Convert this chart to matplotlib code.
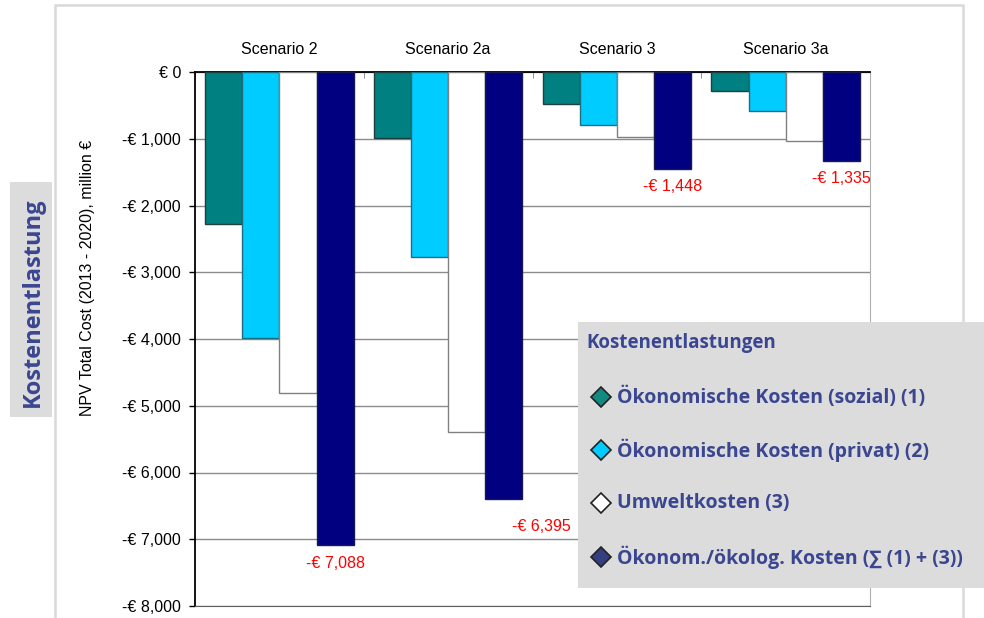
import numpy as np
import matplotlib.pyplot as plt
from matplotlib.patches import Rectangle
from matplotlib.lines import Line2D

# Data (million EUR, NPV 2013-2020)
scenarios = ["Scenario 2", "Scenario 2a", "Scenario 3", "Scenario 3a"]
social_costs = [-2280, -990, -480, -280]
private_costs = [-3980, -2770, -790, -580]
environmental_costs = [-4810, -5400, -970, -1030]
total_costs = [-7088, -6395, -1448, -1335]

series_names = [
    "Ökonomische Kosten (sozial) (1)",
    "Ökonomische Kosten (privat) (2)",
    "Umweltkosten (3)",
    "Ökonom./ökolog. Kosten (∑ (1) + (3))",
]
y_ticks = [0, -1000, -2000, -3000, -4000, -5000, -6000, -7000, -8000]

BAR_COLORS = ["#008080", "#00ccff", "#ffffff", "#000080"]
EDGE_COLORS = ["#1f3f3f", "#1a6f80", "#808080", "#1a1a4a"]
MARKER_COLORS = ["#138a80", "#00ccff", "#ffffff", "#333f80"]
TEXT_BLUE = "#3a4690"
FS = 11.5

plt.rcParams['font.family'] = ['Liberation Sans', 'DejaVu Sans']

fig = plt.figure(figsize=(9.84, 6.18), dpi=100)
W, H = 984, 618


def fx(px):
    return px / W


def fy(py):
    return 1 - py / H


# outer frame of the embedded chart
fig.patches.append(Rectangle((fx(55), fy(640)), fx(963) - fx(55), fy(5) - fy(640),
                             transform=fig.transFigure, fill=False,
                             edgecolor="#d9d9d9", linewidth=1.8, zorder=0))

ax = fig.add_axes([fx(195), fy(606), fx(870) - fx(195), fy(72) - fy(606)])

width = 0.22
start = (1 - 4 * width) / 2
x = np.arange(len(scenarios))
all_series = [social_costs, private_costs, environmental_costs, total_costs]
for k, vals in enumerate(all_series):
    ax.bar(x + start + width * (k + 0.5), vals, width, color=BAR_COLORS[k],
           edgecolor=EDGE_COLORS[k], linewidth=1.0, zorder=3)

# red data labels under the total bars
label_offsets = [(0, -18), (38, -28), (0, -18), (0, -17)]
for i, v in enumerate(total_costs):
    ax.annotate(f"-€ {abs(v):,}", (x[i] + start + width * 3.5, v),
                xytext=label_offsets[i], textcoords="offset pixels",
                ha="center", va="center", color="#ff0000", fontsize=FS)

ax.set_xlim(0, len(scenarios))
ax.set_ylim(-8000, 0)
ax.set_yticks(y_ticks)
ax.set_yticklabels(["€ 0" if t == 0 else f"-€ {abs(t):,}" for t in y_ticks],
                   fontsize=FS)
ax.yaxis.grid(True, color="#8c8c8c", linewidth=1.0, zorder=0)
ax.set_axisbelow(True)
ax.tick_params(axis="y", direction="out", length=4, width=1, pad=6)

ax.xaxis.tick_top()
ax.set_xticks(x + 0.5)
ax.set_xticklabels(scenarios, fontsize=FS)
ax.set_xticks(np.arange(len(scenarios) + 1), minor=True)
ax.tick_params(axis="x", which="major", length=0, pad=11)
ax.tick_params(axis="x", which="minor", direction="in", length=4, color="#808080")

ax.spines["top"].set_color("black")
ax.spines["top"].set_linewidth(1.3)
ax.spines["left"].set_color("black")
ax.spines["left"].set_linewidth(1.3)
ax.spines["right"].set_color("#b0b0b0")
ax.spines["bottom"].set_color("#606060")

fig.text(fx(88), fy(278), "NPV Total Cost (2013 - 2020), million €",
         rotation=90, ha="center", va="center", fontsize=FS)

# side caption box
fig.patches.append(Rectangle((fx(10), fy(417)), fx(52) - fx(10), fy(182) - fy(417),
                             transform=fig.transFigure, facecolor="#dcdcdc",
                             edgecolor="none", zorder=1))
fig.text(fx(33), fy(302), "Kostenentlastung", rotation=90, ha="center", va="center",
         fontsize=17, fontweight="bold", color=TEXT_BLUE, family="Open Sans", zorder=2)

# legend box
fig.patches.append(Rectangle((fx(578), fy(588)), fx(990) - fx(578), fy(322) - fy(588),
                             transform=fig.transFigure, facecolor="#dcdcdc",
                             edgecolor="none", zorder=5))
fig.text(fx(586), fy(343), "Kostenentlastungen", ha="left", va="center",
         fontsize=13.5, fontweight="bold", color=TEXT_BLUE, family="Open Sans", zorder=6)
legend_rows = [397, 450, 503, 557]
for k, name in enumerate(series_names):
    fig.lines.append(Line2D([fx(601)], [fy(legend_rows[k])], marker="D", markersize=10,
                            markerfacecolor=MARKER_COLORS[k], markeredgecolor="#222222",
                            markeredgewidth=1.2, transform=fig.transFigure, zorder=6))
    fig.text(fx(617), fy(legend_rows[k]), name, ha="left", va="center",
             fontsize=14, fontweight="bold", color=TEXT_BLUE,
             family=["Open Sans", "DejaVu Sans"], zorder=6)

fig.savefig("out.png", dpi=100)
